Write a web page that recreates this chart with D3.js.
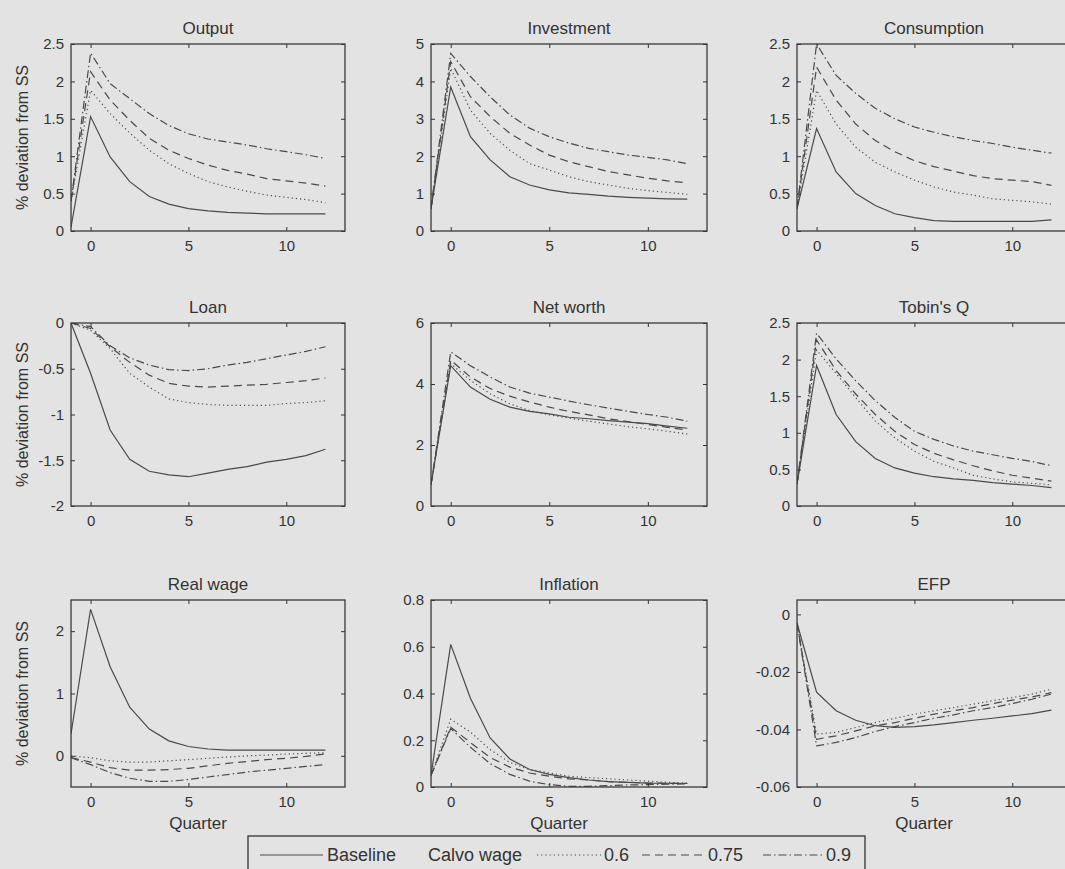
<!DOCTYPE html>
<html>
<head>
<meta charset="utf-8">
<script src="https://cdn.jsdelivr.net/npm/d3@7"></script>
<style>
  html, body { margin: 0; padding: 0; background: #e3e3e3; }
  svg { display: block; }
</style>
</head>
<body>
<div id="chart"></div>
<script>
// ---------------- DATA ----------------
const quarters = [-1, 0, 1, 2, 3, 4, 5, 6, 7, 8, 9, 10, 11, 12];
const xTicks = [0, 5, 10];
const seriesNames = ["Baseline", "0.6", "0.75", "0.9"];
const legendGroupLabel = "Calvo wage";
const panelTitles = ["Output", "Investment", "Consumption", "Loan", "Net worth", "Tobin's Q", "Real wage", "Inflation", "EFP"];
const yLabel = "% deviation from SS";
const xLabel = "Quarter";

// each panel: [Baseline, 0.6, 0.75, 0.9]
const outputSeries = [
  [0.05, 1.53, 0.99, 0.66, 0.46, 0.36, 0.30, 0.27, 0.25, 0.24, 0.23, 0.23, 0.23, 0.23],
  [0.40, 1.88, 1.57, 1.31, 1.08, 0.90, 0.77, 0.66, 0.59, 0.53, 0.48, 0.45, 0.42, 0.38],
  [0.40, 2.13, 1.75, 1.48, 1.24, 1.08, 0.97, 0.88, 0.81, 0.76, 0.70, 0.67, 0.64, 0.60],
  [0.40, 2.38, 1.97, 1.77, 1.57, 1.41, 1.30, 1.23, 1.19, 1.15, 1.10, 1.06, 1.02, 0.97]
];
const investmentSeries = [
  [0.6, 3.85, 2.52, 1.90, 1.45, 1.23, 1.10, 1.02, 0.98, 0.93, 0.90, 0.88, 0.86, 0.85],
  [0.6, 4.35, 3.23, 2.61, 2.16, 1.80, 1.63, 1.45, 1.32, 1.23, 1.14, 1.08, 1.03, 0.98],
  [0.6, 4.53, 3.59, 3.06, 2.61, 2.30, 2.03, 1.85, 1.72, 1.59, 1.50, 1.41, 1.34, 1.29],
  [0.6, 4.75, 4.13, 3.59, 3.10, 2.75, 2.52, 2.35, 2.21, 2.12, 2.03, 1.97, 1.90, 1.80]
];
const consumptionSeries = [
  [0.3, 1.37, 0.79, 0.50, 0.34, 0.23, 0.18, 0.14, 0.13, 0.13, 0.13, 0.13, 0.13, 0.15],
  [0.3, 1.88, 1.43, 1.12, 0.92, 0.79, 0.68, 0.59, 0.52, 0.48, 0.43, 0.41, 0.39, 0.36],
  [0.3, 2.19, 1.75, 1.43, 1.21, 1.06, 0.94, 0.86, 0.80, 0.74, 0.70, 0.68, 0.66, 0.61],
  [0.3, 2.50, 2.08, 1.84, 1.64, 1.50, 1.39, 1.32, 1.26, 1.21, 1.17, 1.12, 1.08, 1.04]
];
const loanSeries = [
  [0, -0.55, -1.17, -1.49, -1.62, -1.66, -1.68, -1.64, -1.60, -1.57, -1.52, -1.49, -1.45, -1.38],
  [0, -0.08, -0.28, -0.55, -0.70, -0.83, -0.87, -0.89, -0.90, -0.90, -0.90, -0.88, -0.87, -0.85],
  [0, -0.06, -0.26, -0.43, -0.57, -0.66, -0.69, -0.70, -0.69, -0.68, -0.67, -0.65, -0.63, -0.60],
  [0, -0.04, -0.25, -0.38, -0.46, -0.51, -0.52, -0.50, -0.46, -0.43, -0.39, -0.35, -0.31, -0.26]
];
const netWorthSeries = [
  [0.7, 4.60, 3.90, 3.50, 3.24, 3.10, 3.02, 2.91, 2.86, 2.80, 2.75, 2.70, 2.62, 2.55],
  [0.7, 4.67, 4.12, 3.68, 3.35, 3.13, 2.99, 2.88, 2.78, 2.69, 2.60, 2.53, 2.45, 2.36],
  [0.7, 4.78, 4.23, 3.85, 3.60, 3.41, 3.24, 3.10, 2.99, 2.86, 2.77, 2.67, 2.58, 2.49],
  [0.7, 5.05, 4.60, 4.23, 3.90, 3.70, 3.57, 3.44, 3.32, 3.21, 3.10, 3.00, 2.91, 2.78]
];
const tobinsQSeries = [
  [0.3, 1.92, 1.25, 0.88, 0.65, 0.52, 0.45, 0.40, 0.37, 0.35, 0.32, 0.30, 0.28, 0.25],
  [0.3, 2.13, 1.81, 1.48, 1.16, 0.93, 0.75, 0.61, 0.52, 0.42, 0.37, 0.33, 0.31, 0.29],
  [0.3, 2.27, 1.85, 1.53, 1.25, 1.02, 0.84, 0.72, 0.63, 0.55, 0.48, 0.42, 0.38, 0.34],
  [0.3, 2.36, 2.01, 1.71, 1.44, 1.21, 1.02, 0.91, 0.82, 0.75, 0.70, 0.65, 0.61, 0.55]
];
const realWageSeries = [
  [0.35, 2.35, 1.43, 0.78, 0.43, 0.24, 0.15, 0.11, 0.09, 0.09, 0.09, 0.09, 0.09, 0.09],
  [0.00, -0.03, -0.08, -0.10, -0.10, -0.08, -0.06, -0.04, -0.02, 0.00, 0.01, 0.03, 0.04, 0.05],
  [-0.03, -0.10, -0.19, -0.23, -0.23, -0.22, -0.20, -0.16, -0.12, -0.09, -0.06, -0.04, -0.01, 0.03],
  [-0.03, -0.14, -0.27, -0.36, -0.41, -0.41, -0.38, -0.34, -0.30, -0.26, -0.23, -0.20, -0.17, -0.14]
];
const inflationSeries = [
  [0.05, 0.61, 0.38, 0.21, 0.12, 0.075, 0.054, 0.040, 0.030, 0.023, 0.020, 0.017, 0.016, 0.015],
  [0.05, 0.29, 0.235, 0.16, 0.105, 0.075, 0.060, 0.046, 0.040, 0.035, 0.030, 0.025, 0.020, 0.017],
  [0.05, 0.256, 0.19, 0.126, 0.085, 0.060, 0.046, 0.035, 0.030, 0.023, 0.020, 0.017, 0.016, 0.015],
  [0.05, 0.25, 0.17, 0.10, 0.054, 0.025, 0.010, 0.003, 0.003, 0.006, 0.009, 0.010, 0.012, 0.013]
];
const efpSeries = [
  [-0.003, -0.0270, -0.0335, -0.0368, -0.0387, -0.0393, -0.0390, -0.0384, -0.0376, -0.0368, -0.0361, -0.0353, -0.0345, -0.0333],
  [-0.003, -0.0416, -0.0410, -0.0393, -0.0376, -0.0361, -0.0347, -0.0335, -0.0324, -0.0312, -0.0300, -0.0289, -0.0277, -0.0260],
  [-0.003, -0.0434, -0.0422, -0.0405, -0.0387, -0.0376, -0.0361, -0.0347, -0.0335, -0.0324, -0.0310, -0.0298, -0.0287, -0.0272],
  [-0.003, -0.0457, -0.0445, -0.0428, -0.0407, -0.0390, -0.0376, -0.0361, -0.0349, -0.0335, -0.0324, -0.0310, -0.0295, -0.0277]
];

const yDomains = [[0, 2.5], [0, 5], [0, 2.5], [-2, 0], [0, 6], [0, 2.5], [-0.5, 2.5], [0, 0.8], [-0.06, 0.005]];
const yTickValues = [
  [0, 0.5, 1, 1.5, 2, 2.5],
  [0, 1, 2, 3, 4, 5],
  [0, 0.5, 1, 1.5, 2, 2.5],
  [-2, -1.5, -1, -0.5, 0],
  [0, 2, 4, 6],
  [0, 0.5, 1, 1.5, 2, 2.5],
  [0, 1, 2],
  [0, 0.2, 0.4, 0.6, 0.8],
  [-0.06, -0.04, -0.02, 0]
];
const panelSeries = [outputSeries, investmentSeries, consumptionSeries, loanSeries, netWorthSeries,
                     tobinsQSeries, realWageSeries, inflationSeries, efpSeries];

// ---------------- LAYOUT / STYLE ----------------
const W = 1065, H = 869;
const BG = "#e3e3e3", INK = "#333", LINE = "#4a4a4a";
const FONT = "'Liberation Sans', Arial, Helvetica, sans-serif";
const cols = [{x: 71, w: 274}, {x: 431, w: 276}, {x: 797, w: 274}];
const rows = [{y: 44, h: 187}, {y: 323, h: 183}, {y: 600, h: 187}];
const dashes = [null, "1.2,3", "8,5", "8,3,1.5,3"];
const fmt = v => String(+v.toFixed(4));

const svg = d3.select("#chart").append("svg")
  .attr("width", W).attr("height", H)
  .style("font-family", FONT);
svg.append("rect").attr("width", W).attr("height", H).attr("fill", BG);

panelSeries.forEach((series, i) => {
  const r = Math.floor(i / 3), c = i % 3;
  const L = cols[c], R = rows[r];
  const x = d3.scaleLinear().domain([-1, 13]).range([0, L.w]);
  const y = d3.scaleLinear().domain(yDomains[i]).range([R.h, 0]);
  const g = svg.append("g").attr("transform", `translate(${L.x},${R.y})`);

  const clipId = "clip" + i;
  g.append("clipPath").attr("id", clipId).append("rect")
    .attr("width", L.w).attr("height", R.h);

  // lines
  const line = d3.line().x((d, k) => x(quarters[k])).y(d => y(d));
  const lg = g.append("g").attr("clip-path", `url(#${clipId})`);
  series.forEach((s, k) => {
    lg.append("path").datum(s)
      .attr("d", line)
      .attr("fill", "none")
      .attr("stroke", LINE)
      .attr("stroke-width", 1.2)
      .attr("stroke-dasharray", dashes[k]);
  });

  // axes (MATLAB-style inward ticks on all sides)
  const styleAxis = sel => {
    sel.select(".domain").remove();
    sel.selectAll(".tick line").attr("stroke", INK).attr("stroke-width", 1);
    sel.selectAll(".tick text").attr("fill", INK).style("font-size", "15px").style("font-family", FONT);
  };
  g.append("g").attr("transform", `translate(0,${R.h})`)
    .call(d3.axisBottom(x).tickValues(xTicks).tickSize(-4).tickPadding(9).tickFormat(fmt))
    .call(styleAxis);
  g.append("g")
    .call(d3.axisTop(x).tickValues(xTicks).tickSize(-4).tickFormat(""))
    .call(styleAxis);
  g.append("g")
    .call(d3.axisLeft(y).tickValues(yTickValues[i]).tickSize(-4).tickPadding(7).tickFormat(fmt))
    .call(styleAxis);
  g.append("g").attr("transform", `translate(${L.w},0)`)
    .call(d3.axisRight(y).tickValues(yTickValues[i]).tickSize(-4).tickFormat(""))
    .call(styleAxis);

  g.append("rect").attr("width", L.w).attr("height", R.h)
    .attr("fill", "none").attr("stroke", "#3a3a3a").attr("stroke-width", 1.3);

  // title
  g.append("text").attr("x", L.w / 2).attr("y", -10)
    .attr("text-anchor", "middle").attr("fill", INK)
    .style("font-size", "17px").text(panelTitles[i]);

  if (c === 0) {
    g.append("text")
      .attr("transform", `translate(${22 - L.x},${R.h / 2}) rotate(-90)`)
      .attr("text-anchor", "middle").attr("dy", "0.35em").attr("fill", INK)
      .style("font-size", "16px").text(yLabel);
  }
  if (r === 2) {
    g.append("text").attr("x", L.w / 2 - 10).attr("y", R.h + 42)
      .attr("text-anchor", "middle").attr("fill", INK)
      .style("font-size", "17px").text(xLabel);
  }
});

// ---------------- LEGEND ----------------
const leg = svg.append("g");
leg.append("rect").attr("x", 248).attr("y", 836).attr("width", 617).attr("height", 45)
  .attr("fill", BG).attr("stroke", "#333").attr("stroke-width", 1.3);
const legY = 855;
const legItems = [
  {type: "line", k: 0, x1: 260, x2: 323},
  {type: "text", t: seriesNames[0], x: 327},
  {type: "text", t: legendGroupLabel, x: 428},
  {type: "line", k: 1, x1: 537, x2: 601},
  {type: "text", t: seriesNames[1], x: 604},
  {type: "line", k: 2, x1: 642, x2: 706},
  {type: "text", t: seriesNames[2], x: 708},
  {type: "line", k: 3, x1: 763, x2: 825},
  {type: "text", t: seriesNames[3], x: 826}
];
legItems.forEach(it => {
  if (it.type === "line") {
    leg.append("line").attr("x1", it.x1).attr("x2", it.x2).attr("y1", legY).attr("y2", legY)
      .attr("stroke", LINE).attr("stroke-width", 1.2).attr("stroke-dasharray", dashes[it.k]);
  } else {
    leg.append("text").attr("x", it.x).attr("y", legY).attr("dy", "0.36em")
      .attr("fill", INK).style("font-size", "18px").text(it.t);
  }
});
</script>
</body>
</html>
